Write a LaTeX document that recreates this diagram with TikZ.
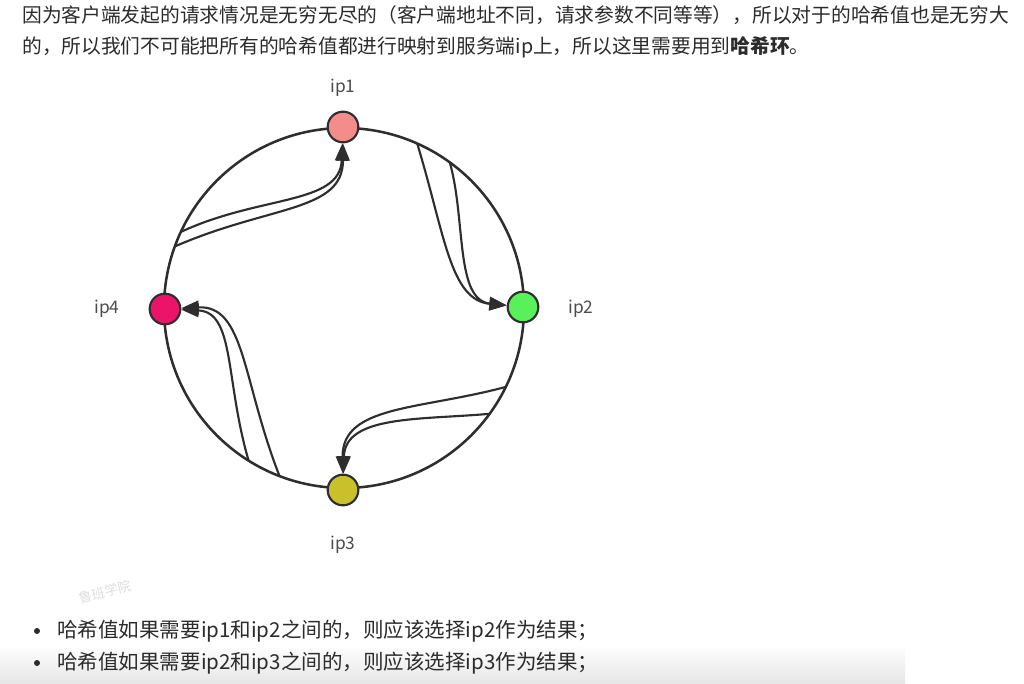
\documentclass[tikz,border=0pt]{standalone}
\usepackage{fontspec}
\setmainfont{Noto Sans CJK SC}
\usetikzlibrary{arrows.meta,calc}
\definecolor{txt}{HTML}{2B2B2B}
\definecolor{ringc}{HTML}{2E2E2E}
\definecolor{ipone}{HTML}{F58C8C}
\definecolor{iptwo}{HTML}{5AF05A}
\definecolor{ipthree}{HTML}{C9C12B}
\definecolor{ipfour}{HTML}{EC1468}

\begin{document}
\begin{tikzpicture}[x=0.75pt, y=-0.75pt,
    para/.style={anchor=west, inner sep=0pt, text=txt, font=\fontsize{14.8}{17}\selectfont},
    item/.style={para, font=\fontsize{15.4}{18}\selectfont},
    server/.style={circle, draw=ringc, line width=1.6pt, minimum size=23pt, inner sep=0pt},
    iplabel/.style={text=txt!85, font=\fontsize{13}{15}\selectfont},
    ring/.style={draw=ringc, line width=1.9pt},
    hash/.style={-{Triangle[length=13pt, width=10pt]}, draw=ringc, line width=1.6pt}
]
    \useasboundingbox (0,0) rectangle (1024,684);
    \fill[white] (0,0) rectangle (1024,684);
    \shade[top color=white, bottom color=black!10] (0,645) rectangle (905,684);

    \node[para] (line1) at (22,15) {因为客户端发起的请求情况是无穷无尽的（客户端地址不同，请求参数不同等等），所以对于的哈希值也是无穷大};
    \node[para] (line2) at (22,47) {的，所以我们不可能把所有的哈希值都进行映射到服务端ip上，所以这里需要用到\textbf{哈希环}。};

    \coordinate (c) at (344,308);
    \draw[ring] (c) circle (180);

    \node[server, fill=ipone] (ip1) at (343,127) {};
    \node[server, fill=iptwo] (ip2) at (523,307) {};
    \node[server, fill=ipthree] (ip3) at (343,490) {};
    \node[server, fill=ipfour] (ip4) at (165,309) {};

    \node[iplabel] (lab1) at (343,88) {ip1};
    \node[iplabel] (lab2) at (581,309) {ip2};
    \node[iplabel] (lab3) at (343,545) {ip3};
    \node[iplabel] (lab4) at (107,309) {ip4};

    \draw[hash] ($(c)+(205:180)$) .. controls (260,195) and (340,205) .. (ip1);
    \draw[hash] ($(c)+(200:180)$) .. controls (270,205) and (343,212) .. (ip1);
    \draw[hash] ($(c)+(294:180)$) .. controls (445,235) and (450,300) .. (ip2);
    \draw[hash] ($(c)+(306:180)$) .. controls (466,220) and (455,300) .. (ip2);
    \draw[hash] ($(c)+(26:180)$) .. controls (420,410) and (342,405) .. (ip3);
    \draw[hash] ($(c)+(36:180)$) .. controls (420,420) and (345,415) .. (ip3);
    \draw[hash] ($(c)+(122:180)$) .. controls (225,380) and (235,312) .. (ip4);
    \draw[hash] ($(c)+(111:180)$) .. controls (242,380) and (245,305) .. (ip4);

    \node[rotate=15, text=black!13, font=\fontsize{10}{11}\selectfont] (mark) at (105,592) {鲁班学院};

    \fill[txt] (37,631) circle (3);
    \node[item] (item1) at (57,631) {哈希值如果需要ip1和ip2之间的，则应该选择ip2作为结果；};
    \fill[txt] (37,663) circle (3);
    \node[item] (item2) at (57,663) {哈希值如果需要ip2和ip3之间的，则应该选择ip3作为结果；};
\end{tikzpicture}
\end{document}
